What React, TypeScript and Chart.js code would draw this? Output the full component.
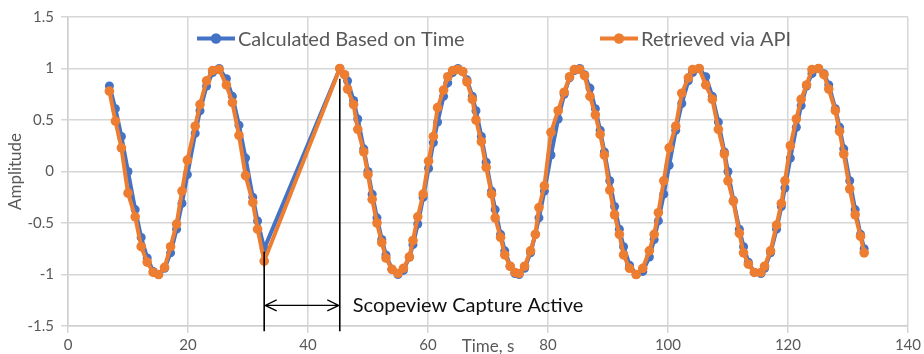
import React, { useEffect, useRef } from "react";
import { Chart, registerables } from "chart.js";

Chart.register(...registerables);

// Time stamps (s), shared by both series
const times = [
  6.9, 7.9, 8.9, 10.0, 11.2, 12.2, 13.2, 14.2, 15.1, 16.1, 17.1, 18.1, 19.0, 19.9, 21.2, 22.0, 23.1, 24.1, 25.2, 26.4,
  27.4, 28.5, 29.6, 30.8, 31.6, 32.7,
  45.3, 46.1, 46.6, 47.6, 48.3, 49.3, 50.0, 50.7, 51.5, 52.3, 53.0, 54.0, 55.0, 55.9, 56.9, 57.5, 58.3, 59.2, 60.1, 60.9,
  61.6, 62.6, 63.3, 64.1, 65.0, 65.8, 66.5, 67.4, 68.0, 68.9, 69.7, 70.6, 71.2, 72.1, 72.8, 73.7, 74.5, 75.2, 76.1, 77.1,
  77.9, 78.5, 79.4, 80.5, 81.7, 82.7, 83.6, 84.4, 85.3, 86.1, 87.0, 87.9, 88.7, 89.4, 90.3, 91.1, 91.9, 92.6, 93.6, 94.7,
  95.8, 96.9, 97.7, 98.4, 99.3, 100.2, 101.3, 102.3, 103.4, 104.1, 105.2, 106.3, 107.4, 108.4, 109.4, 110.0, 110.9, 111.9,
  112.6, 113.4, 114.4, 115.5, 116.1, 117.1, 118.1, 118.9, 119.5, 120.4, 121.4, 122.2, 123.1, 124.0, 125.1, 126.0, 126.8,
  127.9, 128.6, 129.3, 130.3, 131.2, 132.1, 132.7,
];

// "Calculated Based on Time"
const calculated = [
  0.83, 0.61, 0.34, 0.0, -0.37, -0.64, -0.84, -0.97, -1.0, -0.94, -0.79, -0.56, -0.31, -0.03, 0.37, 0.59, 0.83, 0.96, 1.0, 0.9,
  0.73, 0.45, 0.13, -0.25, -0.48, -0.75,
  1.0, 0.94, 0.88, 0.69, 0.51, 0.22, 0.0, -0.22, -0.45, -0.66, -0.81, -0.95, -1.0, -0.96, -0.83, -0.71, -0.51, -0.25, 0.03, 0.28,
  0.48, 0.73, 0.86, 0.96, 1.0, 0.97, 0.89, 0.73, 0.59, 0.34, 0.09, -0.19, -0.37, -0.61, -0.77, -0.92, -0.99, -1.0, -0.94, -0.79,
  -0.61, -0.45, -0.19, 0.16, 0.51, 0.75, 0.91, 0.98, 1.0, 0.94, 0.81, 0.61, 0.4, 0.19, -0.09, -0.34, -0.56, -0.73, -0.91, -1.0,
  -0.97, -0.83, -0.66, -0.48, -0.22, 0.06, 0.4, 0.66, 0.88, 0.96, 1.0, 0.92, 0.73, 0.48, 0.19, 0.0, -0.28, -0.56,
  -0.73, -0.88, -0.98, -0.99, -0.94, -0.79, -0.56, -0.34, -0.16, 0.13, 0.43, 0.64, 0.83, 0.95, 1.0, 0.95, 0.84,
  0.61, 0.43, 0.22, -0.09, -0.37, -0.61, -0.75,
];

// "Retrieved via API"
const retrieved = [
  0.78, 0.49, 0.23, -0.21, -0.44, -0.73, -0.88, -0.98, -1.0, -0.93, -0.73, -0.51, -0.19, 0.11, 0.44, 0.65, 0.88, 0.98, 0.99, 0.84,
  0.67, 0.35, -0.04, -0.3, -0.56, -0.87,
  1.0, 0.94, 0.8, 0.65, 0.41, 0.19, -0.03, -0.27, -0.5, -0.69, -0.84, -0.95, -0.99, -0.94, -0.83, -0.67, -0.44, -0.22, 0.1, 0.34,
  0.62, 0.79, 0.92, 0.98, 0.99, 0.97, 0.87, 0.7, 0.5, 0.29, 0.04, -0.22, -0.45, -0.64, -0.81, -0.92, -0.98, -0.99, -0.92, -0.77,
  -0.61, -0.35, -0.14, 0.38, 0.59, 0.77, 0.92, 0.99, 0.99, 0.93, 0.73, 0.55, 0.36, 0.16, -0.18, -0.42, -0.61, -0.81, -0.94, -1.0,
  -0.94, -0.77, -0.61, -0.4, -0.09, 0.23, 0.44, 0.76, 0.91, 0.99, 1.0, 0.84, 0.7, 0.41, 0.17, -0.09, -0.29, -0.6,
  -0.79, -0.9, -0.98, -0.98, -0.92, -0.77, -0.52, -0.31, -0.09, 0.25, 0.51, 0.7, 0.84, 0.99, 1.0, 0.94, 0.8,
  0.59, 0.39, 0.17, -0.17, -0.42, -0.63, -0.79,
];

const seriesNames = ["Calculated Based on Time", "Retrieved via API"];
const seriesColors = ["#4472C4", "#ED7D31"];
const xAxisTitle = "Time, s";
const yAxisTitle = "Amplitude";
const xRange = [0, 140];
const xStep = 20;
const yRange = [-1.5, 1.5];
const yStep = 0.5;

// Annotation (data coordinates)
const captureStart = 32.7;
const captureEnd = 45.3;
const captureStartTop = -0.78;
const captureEndTop = 0.9;
const captureBottom = -1.55;
const captureArrowY = -1.3;
const captureText = "Scopeview Capture Active";

const FONT = "Lato, 'Open Sans', sans-serif";
const GREY = "#595959";

const overlayPlugin = {
  id: "overlay",
  afterDatasetsDraw(chart: any) {
    const { ctx, chartArea, scales } = chart;
    const xs = scales.x;
    const ys = scales.y;
    ctx.save();
    // capture annotation
    const xl = xs.getPixelForValue(captureStart);
    const xr = xs.getPixelForValue(captureEnd);
    const yb = ys.getPixelForValue(captureBottom);
    const ya = ys.getPixelForValue(captureArrowY);
    ctx.strokeStyle = "#000";
    ctx.lineWidth = 1.6;
    ctx.beginPath();
    ctx.moveTo(xl, ys.getPixelForValue(captureStartTop));
    ctx.lineTo(xl, yb);
    ctx.moveTo(xr, ys.getPixelForValue(captureEndTop));
    ctx.lineTo(xr, yb);
    ctx.stroke();
    ctx.lineWidth = 1.3;
    ctx.beginPath();
    ctx.moveTo(xl + 1, ya);
    ctx.lineTo(xr - 1, ya);
    ctx.moveTo(xl + 12.5, ya - 5.5);
    ctx.lineTo(xl + 1, ya);
    ctx.lineTo(xl + 12.5, ya + 5.5);
    ctx.moveTo(xr - 12.5, ya - 5.5);
    ctx.lineTo(xr - 1, ya);
    ctx.lineTo(xr - 12.5, ya + 5.5);
    ctx.stroke();
    ctx.fillStyle = "#111";
    ctx.font = `20px ${FONT}`;
    ctx.textBaseline = "middle";
    ctx.textAlign = "left";
    ctx.fillText(captureText, xr + 13, ya);

    // legend
    const ly = chartArea.top + 21.5;
    const items = [chartArea.left + 129, chartArea.left + 532];
    items.forEach((lx, i) => {
      ctx.strokeStyle = seriesColors[i];
      ctx.fillStyle = seriesColors[i];
      ctx.lineWidth = 4;
      ctx.beginPath();
      ctx.moveTo(lx, ly);
      ctx.lineTo(lx + 38, ly);
      ctx.stroke();
      ctx.beginPath();
      ctx.arc(lx + 19, ly, 5.2, 0, Math.PI * 2);
      ctx.fill();
      ctx.fillStyle = GREY;
      ctx.font = `20px ${FONT}`;
      ctx.fillText(seriesNames[i], lx + 41, ly + 1);
    });

    // axis titles
    ctx.fillStyle = GREY;
    ctx.font = `17px ${FONT}`;
    ctx.textAlign = "center";
    ctx.fillText(xAxisTitle, (chartArea.left + chartArea.right) / 2, chartArea.bottom + 21);
    ctx.translate(16, (chartArea.top + chartArea.bottom) / 2);
    ctx.rotate(-Math.PI / 2);
    ctx.fillText(yAxisTitle, 0, 0);
    ctx.restore();
  },
};

const fmt = (v: number) => String(Number(v.toFixed(2)));

export default function App() {
  const ref = useRef<HTMLCanvasElement | null>(null);
  useEffect(() => {
    if (!ref.current) return;
    const mk = (vals: number[]) => times.map((t, i) => ({ x: t, y: vals[i] }));
    const chart = new Chart(ref.current, {
      type: "line",
      data: {
        datasets: [
          {
            label: seriesNames[0],
            data: mk(calculated),
            borderColor: seriesColors[0],
            backgroundColor: seriesColors[0],
            pointBackgroundColor: seriesColors[0],
            pointBorderColor: seriesColors[0],
            borderWidth: 4,
            pointRadius: 4.5,
            pointBorderWidth: 0,
            order: 2,
          },
          {
            label: seriesNames[1],
            data: mk(retrieved),
            borderColor: seriesColors[1],
            backgroundColor: seriesColors[1],
            pointBackgroundColor: seriesColors[1],
            pointBorderColor: seriesColors[1],
            borderWidth: 4,
            pointRadius: 4.8,
            pointBorderWidth: 0,
            order: 1,
          },
        ],
      },
      options: {
        animation: false,
        responsive: true,
        maintainAspectRatio: false,
        devicePixelRatio: 1,
        layout: { padding: { top: 17, right: 13, left: 0, bottom: 0 } },
        plugins: { legend: { display: false }, tooltip: { enabled: false } },
        scales: {
          x: {
            type: "linear",
            min: xRange[0],
            max: xRange[1],
            afterFit: (s: any) => {
              s.height = 28;
            },
            ticks: { stepSize: xStep, color: GREY, font: { family: FONT, size: 15 }, padding: 3, maxRotation: 0, callback: (v: any) => fmt(v) },
            grid: { color: "#d6d6d6", lineWidth: 1.5, tickLength: 7 },
            border: { color: "#d0d0d0", width: 1.5 },
          },
          y: {
            type: "linear",
            min: yRange[0],
            max: yRange[1],
            afterFit: (s: any) => {
              s.width = 68;
            },
            ticks: { stepSize: yStep, color: GREY, font: { family: FONT, size: 15 }, padding: 7, callback: (v: any) => fmt(v) },
            grid: { color: "#d6d6d6", lineWidth: 1.5, tickLength: 7 },
            border: { color: "#d0d0d0", width: 1.5 },
          },
        },
      },
      plugins: [overlayPlugin],
    });
    return () => chart.destroy();
  }, []);
  return (
    <div style={{ position: "absolute", left: 0, top: 0, width: 924, height: 354, background: "#fff" }}>
      <canvas ref={ref} />
    </div>
  );
}
